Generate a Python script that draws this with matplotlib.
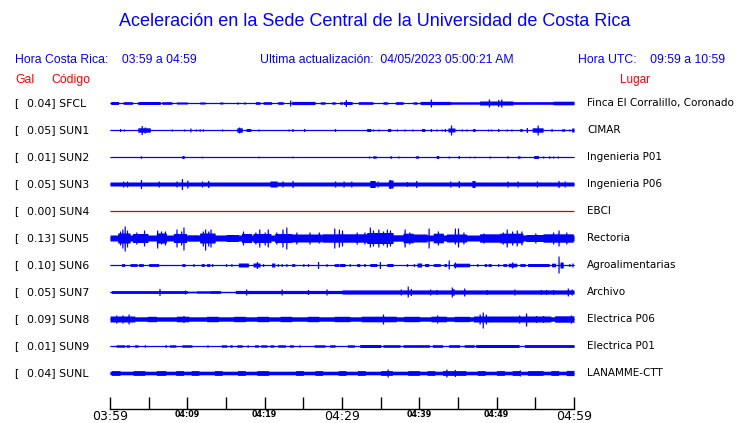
import numpy as np
import matplotlib
matplotlib.use("Agg")
import matplotlib.pyplot as plt

# ---------------- data ----------------
codes = ["SFCL", "SUN1", "SUN2", "SUN3", "SUN4", "SUN5", "SUN6", "SUN7", "SUN8", "SUN9", "SUNL"]
gal = ["0.04", "0.05", "0.01", "0.05", "0.00", "0.13", "0.10", "0.05", "0.09", "0.01", "0.04"]
places = ["Finca El Corralillo, Coronado", "CIMAR", "Ingenieria P01", "Ingenieria P06", "EBCI",
          "Rectoria", "Agroalimentarias", "Archivo", "Electrica P06", "Electrica P01", "LANAMME-CTT"]
trace_colors = ["#0000ff"] * 4 + ["#dd0000"] + ["#0000ff"] * 6
tick_minutes = list(range(0, 61, 5))
tick_labels = ["03:59", "", "04:09", "", "04:19", "", "04:29", "", "04:39", "", "04:49", "", "04:59"]

# base half-amplitude of each trace (screen px)
base_amp = [0.5, 0.5, 0.5, 2.0, 0.5, 3.0, 0.5, 0.6, 2.2, 0.5, 1.8]

# segments: (start min, end min, half amplitude px)
SFCL_segs = [(0.1, 1.1, 1.5), (1.7, 2.9, 1.3), (3.6, 6.5, 1.5), (6.7, 8.0, 1.3), (8.6, 10.0, 1.0),
             (11.6, 12.3, 1.0), (14.2, 14.6, 1.0), (16.4, 16.6, 1.0), (17.3, 17.5, 1.0), (18.8, 19.4, 1.3),
             (19.8, 20.9, 1.3), (21.7, 22.4, 1.3), (23.5, 26.5, 1.6), (27.2, 27.8, 1.2), (28.7, 29.1, 1.2),
             (29.7, 30.1, 1.2), (30.2, 31.3, 1.5), (32.1, 34.0, 1.3), (35.3, 35.9, 1.2), (36.9, 37.9, 1.3),
             (39.2, 39.7, 1.2), (40.1, 44.0, 1.6), (44.0, 47.8, 1.2), (47.8, 52.1, 2.0), (52.1, 57.3, 1.3),
             (57.3, 60.0, 1.8)]
SFCL_spikes = [(23.3, 3, 3), (30.5, 3.5, 3.5), (41.5, 4, 4), (49.0, 4, 4), (50.2, 3.5, 3.5), (50.6, 4, 4)]

SUN1_segs = [(3.6, 5.2, 2.2), (16.4, 17.1, 2.2), (17.6, 18.2, 1.5), (33.2, 33.7, 1.5), (35.9, 36.3, 1.5),
             (40.3, 40.7, 1.5), (43.7, 44.6, 2.0), (46.9, 47.2, 1.5), (53.0, 53.3, 1.5), (54.6, 56.0, 2.2),
             (58.4, 58.8, 1.2), (59.7, 60.0, 2.0)]
SUN1_spikes = [(1.3, 1.5, 1.5), (1.8, 1, 1), (4.1, 4.5, 4.5), (4.5, 3, 3), (8.0, 1, 1), (9.6, 1, 1),
               (10.4, 2, 2), (11.1, 1, 1), (11.6, 1.2, 1.2), (12.0, 1.2, 1.2), (14.5, 1, 1), (16.7, 3, 3),
               (19.2, 1, 1), (23.1, 1, 1), (23.6, 1.5, 1.5), (25.1, 1.5, 1.5), (29.1, 1.5, 1.5), (34.0, 1, 1),
               (34.7, 1, 1), (37.1, 1, 1), (38.1, 1, 1), (39.1, 1, 1), (41.5, 1.5, 1.5), (42.2, 1, 1),
               (42.9, 1, 1), (43.3, 1.5, 1.5), (44.1, 5, 5), (45.5, 1, 1), (46.1, 1, 1), (48.9, 1, 1),
               (49.3, 1, 1), (50.2, 1.5, 1.5), (51.3, 1, 1), (51.9, 1, 1), (53.9, 2.5, 2.5), (55.3, 5, 5),
               (57.1, 1.5, 1.5), (59.4, 1, 1)]

SUN2_segs = [(9.3, 9.6, 1.5), (34.0, 34.4, 1.2), (36.2, 36.4, 1.2), (39.5, 39.9, 1.2), (42.2, 42.5, 1.5),
             (52.7, 53.0, 1.2), (54.8, 55.4, 1.5)]
SUN2_spikes = [(4.0, 1.2, 1.2), (11.9, 0.8, 0.8), (19.2, 0.8, 0.8), (23.6, 0.8, 0.8), (33.5, 1, 1),
               (37.3, 1, 1), (43.8, 1, 1), (45.1, 1.5, 1.5), (46.5, 0.8, 0.8), (47.1, 0.8, 0.8),
               (49.1, 1, 1), (51.4, 1.2, 1.2), (56.0, 1, 1), (56.8, 1.2, 1.2), (57.3, 1, 1), (57.9, 1, 1)]

SUN3_segs = [(20.7, 21.6, 3.0), (33.6, 34.3, 3.5), (36.0, 36.6, 4.0), (46.8, 47.2, 3.5)]
SUN3_spikes = [(1.7, 3, 3), (2.2, 3, 3), (4.0, 4.5, 4.5), (6.3, 3, 3), (8.6, 3, 3), (9.3, 5.5, 5.5),
               (10.0, 4, 4), (11.9, 3, 3), (12.7, 3.5, 3.5), (22.3, 3, 3), (23.6, 3.5, 3.5), (29.1, 3, 3),
               (30.2, 3, 3), (31.2, 3, 3), (34.6, 3, 3), (36.2, 4.5, 4.5), (38.4, 2.5, 2.5), (39.6, 3.5, 3.5),
               (44.0, 3, 3), (45.1, 3.5, 3.5), (51.4, 3, 3), (52.7, 3, 3), (55.2, 3, 3), (58.0, 3.5, 3.5),
               (58.8, 3, 3)]

SUN4_segs = []
SUN4_spikes = []

SUN5_segs = [(1.0, 2.6, 5.0), (2.9, 4.9, 4.5), (6.0, 7.3, 5.0), (8.2, 9.9, 4.5), (10.1, 11.4, 3.2),
             (11.6, 13.6, 5.0), (13.8, 14.9, 3.0), (15.0, 16.6, 3.5), (17.0, 18.3, 4.5), (18.5, 20.8, 4.5),
             (21.3, 23.5, 4.5), (23.5, 25.2, 4.0), (25.2, 27.3, 4.0), (27.4, 30.6, 4.2), (30.6, 33.2, 4.2),
             (33.2, 36.6, 5.5), (36.6, 37.9, 3.2), (37.9, 39.2, 4.8), (39.2, 41.0, 4.0), (41.8, 43.1, 4.8),
             (43.5, 46.1, 4.0), (46.3, 47.8, 3.0), (47.8, 50.4, 4.2), (50.4, 53.4, 4.8), (53.8, 56.0, 3.5),
             (56.0, 59.9, 4.2)]
SUN5_spikes = [(1.3, 7, 7), (1.6, 9, 10), (1.9, 12, 13), (2.2, 8, 9), (3.4, 6, 6), (4.4, 8, 8),
               (6.1, 8, 10), (6.6, 7, 6), (7.1, 7, 7), (8.6, 9, 9), (9.2, 7, 7), (9.5, 11, 12),
               (12.0, 7, 8), (12.3, 9, 12), (12.7, 7, 8), (13.0, 9, 9), (17.2, 7, 7), (18.8, 6, 6),
               (19.3, 9, 9), (20.0, 6, 7), (20.4, 9, 9), (21.5, 6, 6), (22.3, 9, 9), (22.8, 11, 11),
               (24.1, 6, 6), (25.8, 6, 6), (27.0, 6, 5), (29.0, 10, 10), (29.6, 9, 9), (30.0, 8, 8),
               (31.9, 6, 6), (32.9, 6, 6), (33.6, 11, 9), (34.0, 8, 8), (34.7, 9, 9), (35.3, 7, 7),
               (35.8, 9, 9), (36.2, 8, 8), (38.1, 9, 9), (38.7, 6, 6), (41.2, 10, 10), (42.4, 7, 7),
               (44.6, 10, 6), (45.0, 10, 9), (45.7, 6, 6), (48.3, 5, 5), (50.8, 6, 6), (51.3, 9, 9),
               (52.0, 7, 7), (52.6, 8, 8), (53.2, 7, 7), (55.0, 5, 5), (57.3, 6, 6), (58.0, 8, 8),
               (59.0, 6, 6)]

SUN6_segs = [(1.5, 1.9, 1.4), (2.6, 3.5, 1.4), (3.7, 4.3, 1.4), (5.0, 6.3, 1.4), (9.3, 9.7, 1.4),
             (11.8, 12.2, 1.4), (12.5, 12.9, 1.4), (16.6, 17.9, 2.0), (18.5, 19.4, 2.0), (20.9, 21.3, 2.0),
             (23.5, 23.9, 1.4), (29.0, 29.6, 1.4), (29.7, 30.4, 1.5), (31.9, 32.3, 1.4), (32.8, 33.0, 1.4),
             (33.6, 34.5, 1.5), (35.8, 36.6, 1.5), (39.7, 40.3, 2.0), (40.7, 41.2, 1.5), (41.8, 42.7, 1.4),
             (43.2, 43.5, 1.5), (44.4, 46.5, 1.8), (48.4, 48.7, 1.4), (48.9, 49.3, 1.4), (50.8, 51.3, 1.4),
             (51.5, 52.6, 1.8), (53.0, 53.7, 1.4), (54.0, 56.8, 1.5), (57.1, 57.6, 1.8), (58.2, 58.6, 3.0)]
SUN6_spikes = [(10.8, 1.4, 1.4), (13.2, 1.4, 1.4), (15.0, 1.4, 1.4), (15.7, 1.4, 1.4), (19.0, 3.5, 3.5),
               (19.8, 1.4, 1.4), (21.7, 1.4, 1.4), (22.2, 1.4, 1.4), (22.8, 1.4, 1.4), (25.0, 1.4, 1.4),
               (25.6, 1.4, 1.4), (26.9, 3.5, 3.5), (28.0, 1.4, 1.4), (31.0, 1.4, 1.4), (34.9, 3.5, 3.5),
               (38.4, 1.4, 1.4), (39.3, 1.4, 1.4), (43.8, 5, 4), (44.6, 3, 3), (47.5, 1.4, 1.4),
               (50.2, 1.4, 1.4), (52.0, 3, 3), (58.0, 9, 8), (59.4, 1.4, 1.4), (59.8, 2, 2)]

SUN7_segs = [(0.2, 10.0, 1.4), (10.0, 11.2, 0.8), (11.2, 13.0, 1.2), (13.0, 14.3, 1.4), (14.3, 16.2, 0.6),
             (16.2, 30.0, 1.6), (30.0, 60.0, 2.1)]
SUN7_spikes = [(6.4, 3.5, 3.5), (9.7, 2, 2), (17.6, 3, 3), (22.2, 3, 3), (25.6, 2.5, 2.5), (28.0, 3, 3),
               (37.6, 3, 3), (38.5, 6, 5), (38.9, 3.5, 3.5), (41.4, 3, 3), (42.2, 2.5, 2.5), (44.2, 5, 5),
               (44.4, 3.5, 3.5), (45.8, 4, 4), (48.7, 2.5, 2.5), (52.3, 3, 3), (55.7, 2.5, 2.5),
               (56.4, 2.5, 2.5), (57.3, 2.5, 2.5), (59.2, 4, 4), (59.7, 3, 3)]

SUN8_segs = [(0.0, 3.2, 3.0), (4.8, 6.0, 2.7), (8.6, 10.2, 2.8), (12.5, 14.0, 2.7), (16.0, 17.5, 2.7),
             (19.0, 20.5, 2.7), (22.0, 23.5, 2.7), (25.5, 27.0, 2.7), (29.0, 31.0, 2.7), (32.5, 37.0, 2.8),
             (38.0, 40.0, 2.7), (41.5, 43.5, 2.8), (44.5, 46.5, 2.7), (47.0, 52.0, 3.0), (52.0, 57.0, 3.0),
             (57.5, 60.0, 3.2)]
SUN8_spikes = [(0.8, 4, 4), (1.6, 4, 4), (2.4, 5, 5), (9.5, 3.5, 3.5), (35.3, 5, 5), (42.3, 4, 4),
               (47.8, 5, 5), (48.2, 7, 9), (48.6, 5, 5), (52.9, 4, 4), (53.8, 6, 7), (55.1, 3.5, 3.5),
               (56.0, 3.5, 3.5), (59.6, 4, 4)]

SUN9_segs = [(0.8, 1.9, 1.2), (2.1, 2.5, 1.2), (3.2, 3.6, 1.2), (7.1, 7.3, 1.2), (7.7, 8.5, 1.2),
             (9.3, 10.6, 1.2), (14.4, 15.1, 1.2), (15.5, 15.8, 1.2), (16.4, 17.1, 1.2), (18.7, 19.2, 1.2),
             (19.5, 20.3, 1.2), (20.7, 21.2, 1.2), (21.7, 22.7, 1.2), (23.2, 23.7, 1.2), (26.4, 27.8, 1.2),
             (28.4, 29.1, 1.2), (30.7, 31.6, 1.2), (32.3, 35.0, 1.5), (35.3, 37.5, 1.3), (37.9, 41.3, 1.3),
             (41.7, 43.0, 1.3), (43.8, 45.2, 1.3), (45.8, 47.1, 1.3), (47.3, 52.9, 1.5), (53.6, 60.0, 1.4)]
SUN9_spikes = [(4.5, 1.2, 1.2), (12.6, 1.2, 1.2), (17.8, 1.2, 1.2), (24.5, 1.2, 1.2)]

SUNL_segs = [(0.2, 1.3, 2.4), (3.0, 4.5, 2.4), (6.0, 7.2, 2.4), (8.5, 9.5, 2.4), (10.5, 11.5, 2.4),
             (13.5, 14.5, 2.4), (16.5, 17.5, 2.4), (19.0, 20.5, 2.4), (24.0, 25.0, 2.4), (26.5, 27.5, 2.4),
             (29.5, 30.5, 2.4), (32.0, 33.0, 2.4), (35.0, 36.5, 2.4), (38.5, 40.0, 2.4), (41.0, 42.0, 2.4),
             (43.0, 46.0, 2.4), (47.5, 48.5, 2.4), (50.0, 51.0, 2.4), (52.0, 53.0, 2.4), (54.0, 56.0, 2.4),
             (57.0, 58.0, 2.4), (59.0, 60.0, 2.6)]
SUNL_spikes = [(35.9, 4, 4), (43.5, 4, 4), (44.6, 3.5, 3.5), (53.0, 3, 3)]

all_segs = [SFCL_segs, SUN1_segs, SUN2_segs, SUN3_segs, SUN4_segs, SUN5_segs, SUN6_segs,
            SUN7_segs, SUN8_segs, SUN9_segs, SUNL_segs]
all_spikes = [SFCL_spikes, SUN1_spikes, SUN2_spikes, SUN3_spikes, SUN4_spikes, SUN5_spikes, SUN6_spikes,
              SUN7_spikes, SUN8_spikes, SUN9_spikes, SUNL_spikes]

# ---------------- layout ----------------
W, H = 740, 423
fig = plt.figure(figsize=(W / 100, H / 100), dpi=100)
fig.patch.set_facecolor("white")

x0_px, x1_px = 110, 574
ppm = (x1_px - x0_px) / 60.0
ax = fig.add_axes([0, 0, 1, 1])
ax.set_xlim(-x0_px / ppm, (W - x0_px) / ppm)
ax.set_ylim(H, 0)          # y in screen pixels
ax.set_facecolor("white")

row0, row_step = 103, 27
t = np.linspace(0, 60, 4801)
for i, code in enumerate(codes):
    c = row0 + i * row_step
    up = np.full_like(t, base_amp[i])
    dn = np.full_like(t, base_amp[i])
    for (a, b, amp) in all_segs[i]:
        m = (t >= a) & (t <= b)
        up[m] = np.maximum(up[m], amp)
        dn[m] = np.maximum(dn[m], amp)
    for (ts, au, ad) in all_spikes[i]:
        m = np.abs(t - ts) <= 0.08
        up[m] = np.maximum(up[m], au)
        dn[m] = np.maximum(dn[m], ad)
    col = trace_colors[i]
    ax.hlines(c, 0, 60, color=col, lw=0.9)
    if base_amp[i] > 0.5 or all_segs[i] or all_spikes[i]:
        ax.fill_between(t, c - up, c + dn, color=col, lw=0, antialiased=False)

    fig.text(14 / W, 1 - c / H, "[", fontsize=7.8, family="DejaVu Sans", va="center", ha="left")
    fig.text(27 / W, 1 - c / H, f"{gal[i]}] {code}", fontsize=7.8, family="DejaVu Sans",
             va="center", ha="left")
    fig.text(587 / W, 1 - c / H, places[i], fontsize=7.5, family="DejaVu Sans", va="center", ha="left")

# time axis
for s in ["top", "left", "right"]:
    ax.spines[s].set_visible(False)
ax.spines["bottom"].set_position(("data", 409))
ax.spines["bottom"].set_bounds(0, 60)
ax.spines["bottom"].set_linewidth(1.0)
ax.set_yticks([])
ax.set_xticks(tick_minutes)
ax.set_xticklabels(tick_labels)
ax.tick_params(axis="x", direction="in", length=9, width=1.0, pad=0.8)
for lab, m in zip(ax.get_xticklabels(), tick_minutes):
    if m % 30 == 0:
        lab.set_fontsize(9)
        lab.set_family("DejaVu Sans")
    else:
        lab.set_fontsize(5.8)
        lab.set_fontweight("bold")
        lab.set_family("DejaVu Sans")

# header texts
blue = "#0000ff"
red = "#ff0000"
hf = "Liberation Sans"
fig.text(375 / W, 1 - 22 / H, "Aceleración en la Sede Central de la Universidad de Costa Rica",
         fontsize=13, family=hf, color=blue, ha="center", va="center")
fig.text(15 / W, 1 - 60 / H, "Hora Costa Rica:    03:59 a 04:59", fontsize=8.8, family=hf,
         color=blue, ha="left", va="center")
fig.text(387 / W, 1 - 60 / H, "Ultima actualización:  04/05/2023 05:00:21 AM", fontsize=8.8,
         family=hf, color=blue, ha="center", va="center")
fig.text(725 / W, 1 - 60 / H, "Hora UTC:    09:59 a 10:59", fontsize=8.8, family=hf,
         color=blue, ha="right", va="center")
fig.text(15 / W, 1 - 80 / H, "Gal", fontsize=8.8, family=hf, color=red, ha="left", va="center")
fig.text(51 / W, 1 - 80 / H, "Código", fontsize=8.8, family=hf, color=red, ha="left", va="center")
fig.text(650 / W, 1 - 80 / H, "Lugar", fontsize=8.5, family=hf, color=red, ha="right", va="center")

fig.savefig("out.png", dpi=100, facecolor="white")
